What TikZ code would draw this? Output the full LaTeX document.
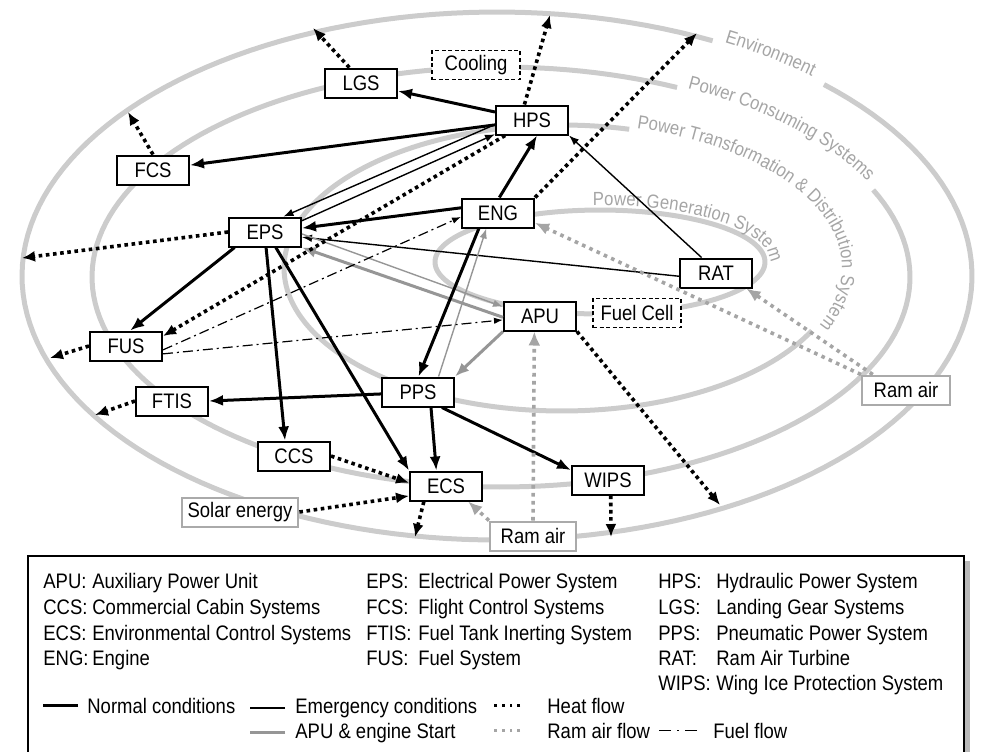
\documentclass[tikz,border=0pt]{standalone}
\usepackage{fontspec}
\setmainfont{Liberation Sans}[FakeStretch=0.88]
\usetikzlibrary{arrows.meta}
\definecolor{ringgray}{RGB}{204,204,204}
\definecolor{labgray}{RGB}{165,165,165}
\definecolor{startgray}{RGB}{150,150,150}
\definecolor{ramgray}{RGB}{165,165,165}
\definecolor{boxgray}{RGB}{170,170,170}
\newcommand\lblfont{\fontsize{10.5}{12.6}\selectfont}
\newcommand\ringfont{\fontsize{9.5}{11.4}\selectfont}
\newlength\chw
\newcommand\ringnodes{}
\newcommand\rtoff{2}
\makeatletter
\newcommand\ringtext[6]{%
  \xdef\rtang{#5}%
  \@tfor\ch:=#6\do{%
    \settowidth{\chw}{\ringfont\ch}%
    \pgfmathsetmacro\rtw{2*\chw}%
    \pgfmathsetmacro\rtL{100*veclen(#3/100*sin(\rtang),#4/100*cos(\rtang))}%
    \pgfmathsetmacro\rtmid{\rtang+0.5*\rtw/\rtL*57.2958}%
    \pgfmathsetmacro\rtrot{atan2(-#4*cos(\rtmid),-#3*sin(\rtmid))}%
    \pgfmathsetmacro\rtx{#1+(#3+\rtoff)*cos(\rtmid)}%
    \pgfmathsetmacro\rty{#2+(#4+\rtoff)*sin(\rtmid)}%
    \xdef\ringnodes{\unexpanded\expandafter{\ringnodes}\noexpand\node[ringchar,rotate=\rtrot] at (\rtx,\rty) {\unexpanded\expandafter{\ch}};}%
    \pgfmathsetmacro\rtnew{\rtang+\rtw/\rtL*57.2958}%
    \xdef\rtang{\rtnew}%
  }%
}
\makeatother
\tikzset{
  sysbox/.style={draw, line width=1pt, fill=white, minimum width=36pt, minimum height=14.5pt, inner sep=2pt, font=\lblfont},
  optbox/.style={draw, line width=0.7pt, dash pattern=on 2pt off 1.3pt, fill=white, minimum width=44pt, minimum height=14.5pt, inner sep=2pt, font=\lblfont},
  srcbox/.style={draw=boxgray, line width=1pt, fill=white, minimum width=43pt, minimum height=14.5pt, inner xsep=3pt, inner ysep=2pt, font=\lblfont},
  legtxt/.style={anchor=base west, inner sep=0pt, font=\lblfont},
  ringline/.style={ringgray, line width=2.5pt},
  ringchar/.style={anchor=base, inner sep=0pt, text=labgray, font=\ringfont},
  normflow/.style={line width=1.5pt, -{Latex[length=7pt,width=5.5pt]}},
  emerflow/.style={line width=0.7pt, -{Latex[length=5pt,width=3.8pt]}},
  startthick/.style={startgray, line width=1.5pt, -{Latex[length=7pt,width=5.5pt]}},
  startthin/.style={startgray, line width=0.7pt, -{Latex[length=5pt,width=3.8pt]}},
  heatflow/.style={line width=1.8pt, dash pattern=on 1.8pt off 1.8pt, -{Latex[length=6.5pt,width=5.5pt]}},
  ramflow/.style={ramgray, line width=1.8pt, dash pattern=on 1.8pt off 2.2pt, -{Latex[length=7pt,width=6pt]}},
  fuelflow/.style={line width=0.6pt, dash pattern=on 5pt off 2pt on 1pt off 2pt, -{Latex[length=4.5pt,width=3.2pt]}},
}
\begin{document}
\ringtext{497}{276}{475}{264}{-61.5}{Environment}%
\ringtext{501}{277}{409}{210}{-63}{Power~Consuming~Systems}%
\ringtext{562}{268}{278}{143}{-74.5}{Power~Transformation~\&~Distribution~System}%
\renewcommand\rtoff{5}%
\ringtext{600}{262}{165}{52}{-92.5}{Power~Generation~System}%
\begin{tikzpicture}[x=0.5pt, y=-0.5pt]
\useasboundingbox (0,0) rectangle (981,751);

\draw[ringline] plot[variable=\t, domain=-46.5:297, samples=160] ({497+475*cos(\t)},{276+264*sin(\t)});
\draw[ringline] plot[variable=\t, domain=-24.5:295.5, samples=160] ({501+409*cos(\t)},{277+210*sin(\t)});
\draw[ringline] plot[variable=\t, domain=26:284, samples=140] ({562+278*cos(\t)},{268+143*sin(\t)});
\draw[ringline] plot[variable=\t, domain=0:360, samples=150] ({600+165*cos(\t)},{262+52*sin(\t)});
\ringnodes

\node[sysbox] (lgs) at (361,83) {LGS};
\node[optbox] (cool) at (476,65) {Cooling};
\node[sysbox] (hps) at (532,120) {HPS};
\node[sysbox] (fcs) at (153,170) {FCS};
\node[sysbox] (eps) at (265,232) {EPS};
\node[sysbox] (eng) at (498,213) {ENG};
\node[sysbox] (rat) at (716,273) {RAT};
\node[sysbox] (apu) at (540,316) {APU};
\node[optbox] (fcell) at (637,313) {Fuel Cell};
\node[sysbox] (fus) at (126,346) {FUS};
\node[srcbox, minimum width=44pt] (ramr) at (906,390) {Ram air};
\node[sysbox] (ftis) at (172,401) {FTIS};
\node[sysbox] (pps) at (418,392) {PPS};
\node[sysbox] (ccs) at (294,456) {CCS};
\node[sysbox] (ecs) at (446,486) {ECS};
\node[sysbox] (wips) at (608,480) {WIPS};
\node[srcbox] (solar) at (240,512) {Solar energy};
\node[srcbox] (ramb) at (533,536) {Ram air};

\draw[normflow] (hps) -- (lgs);
\draw[normflow] (hps) -- (fcs);
\draw[emerflow] (hps.187) -- (eps.40);
\draw[emerflow] (eps.17) -- (hps.201);
\draw[normflow] (eng.85) -- (hps.-72);
\draw[normflow] (eng.172) -- (eps.6);
\draw[emerflow] (rat.185) -- (eps.-8);
\draw[emerflow] (rat.133) -- (hps.south east);
\draw[normflow] (eps.207) -- (fus.75);
\draw[normflow] (eps.-86) -- (ccs.120);
\draw[normflow] (eps.-55) -- (ecs.north west);
\draw[startthin] (eps.-3) -- (apu.166);
\draw[startthick] (apu.182) -- (eps.south east);
\draw[normflow] (eng.219) -- (pps.88);
\draw[startthin] (pps.37) -- (eng.-127);
\draw[startthick] (apu.south west) -- (pps.north east);
\draw[normflow] (pps.183) -- (ftis.east);
\draw[normflow] (pps.-50) -- (ecs.122);
\draw[normflow] (pps.-33) -- (wips.165);

\coordinate (hlgs) at (313,28);
\coordinate (hfcs) at (128,112);
\coordinate (hhps) at (550,15);
\coordinate (heng) at (697,33);
\coordinate (heps) at (22,258);
\coordinate (hfus) at (50,358);
\coordinate (hftis) at (95,415);
\coordinate (hecs) at (415,537);
\coordinate (hwips) at (611,537);
\coordinate (hapu) at (720,505);
\draw[heatflow] (lgs.127) -- (hlgs);
\draw[heatflow] (fcs.north) -- (hfcs);
\draw[heatflow] (hps.116) -- (hhps);
\draw[heatflow] (eng.north east) -- (heng);
\draw[heatflow] (eps.west) -- (heps);
\draw[heatflow] (hps.210) -- (fus.15);
\draw[heatflow] (fus.west) -- (hfus);
\draw[heatflow] (ftis.west) -- (hftis);
\draw[heatflow] (ccs.east) -- (ecs.175);
\draw[heatflow] (solar.east) -- (ecs.195);
\draw[heatflow] (ecs.215) -- (hecs);
\draw[heatflow] (wips.-80) -- (hwips);
\draw[heatflow] (apu.south east) -- (hapu);

\draw[ramflow] (ramr.155) -- (rat.-27);
\draw[ramflow] (ramr.north west) -- (eng.-15);
\draw[ramflow] (ramb.north) -- (apu.-110);
\draw[ramflow] (ramb.north west) -- (ecs.-35);

\draw[fuelflow] (fus.-6) -- (eng.186);
\draw[fuelflow] (fus.-12) -- (apu.186);

\fill[gray!55] (965,561) rectangle (970,760);
\draw[line width=1.2pt] (28,760) -- (28,556) -- (964,556) -- (964,760);

\node[legtxt] (kapu) at (43,588) {\makebox[24.5pt][l]{APU:}Auxiliary Power Unit};
\node[legtxt] (kccs) at (43,614) {\makebox[24.5pt][l]{CCS:}Commercial Cabin Systems};
\node[legtxt] (kecs) at (43,640) {\makebox[24.5pt][l]{ECS:}Environmental Control Systems};
\node[legtxt] (keng) at (43,665) {\makebox[24.5pt][l]{ENG:}Engine};
\node[legtxt] (keps) at (366,588) {\makebox[26pt][l]{EPS:}Electrical Power System};
\node[legtxt] (kfcs) at (366,614) {\makebox[26pt][l]{FCS:}Flight Control Systems};
\node[legtxt] (kftis) at (366,640) {\makebox[26pt][l]{FTIS:}Fuel Tank Inerting System};
\node[legtxt] (kfus) at (366,665) {\makebox[26pt][l]{FUS:}Fuel System};
\node[legtxt] (khps) at (658,588) {\makebox[29pt][l]{HPS:}Hydraulic Power System};
\node[legtxt] (klgs) at (658,614) {\makebox[29pt][l]{LGS:}Landing Gear Systems};
\node[legtxt] (kpps) at (658,640) {\makebox[29pt][l]{PPS:}Pneumatic Power System};
\node[legtxt] (krat) at (658,665) {\makebox[29pt][l]{RAT:}Ram Air Turbine};
\node[legtxt] (kwips) at (658,690) {\makebox[29pt][l]{WIPS:}Wing Ice Protection System};

\node[legtxt] (knorm) at (87,713) {Normal conditions};
\node[legtxt] (kemer) at (295,713) {Emergency conditions};
\node[legtxt] (kstart) at (295,738) {APU \& engine Start};
\node[legtxt] (kheat) at (547,713) {Heat flow};
\node[legtxt] (kram) at (547,738) {Ram air flow};
\node[legtxt] (kfuel) at (713,738) {Fuel flow};
\draw[line width=1.8pt] ([xshift=-4.5pt]knorm.west) -- ++(-35,0);
\draw[line width=1pt] ([xshift=-5pt]kemer.west) -- ++(-35,0);
\draw[startgray, line width=1.2pt] ([xshift=-5pt]kstart.west) -- ++(-35,0);
\draw[line width=1.4pt, dash pattern=on 1.4pt off 2.4pt] ([xshift=-13.5pt]kheat.west) -- ++(-30,0);
\draw[ramgray, line width=1.4pt, dash pattern=on 1.4pt off 2.4pt] ([xshift=-13.5pt]kram.west) -- ++(-30,0);
\draw[line width=0.8pt, dash pattern=on 6pt off 3pt on 1pt off 3pt] ([xshift=-8pt]kfuel.west) -- ++(-38,0);
\end{tikzpicture}
\end{document}
